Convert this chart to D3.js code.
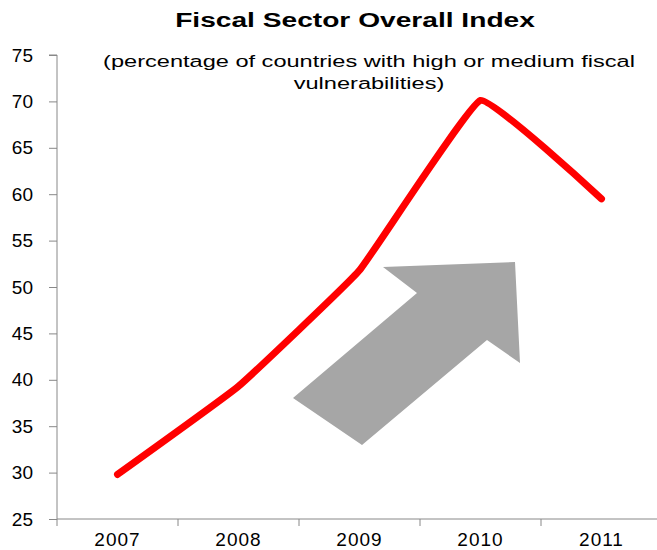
<!DOCTYPE html>
<html>
<head>
<meta charset="utf-8">
<script src="https://cdn.jsdelivr.net/npm/d3@7/dist/d3.min.js"></script>
<style>
  html, body { margin: 0; padding: 0; background: #fff; }
  svg { display: block; }
  text { font-family: "Liberation Sans", Arial, sans-serif; fill: #000; }
</style>
</head>
<body>
<svg id="chart" width="657" height="550"></svg>
<script>
// Index values by year
const years = ["2007", "2008", "2009", "2010", "2011"];
const indexValues = [29.8, 39.3, 51.8, 70.1, 59.5];
const yTicks = [25, 30, 35, 40, 45, 50, 55, 60, 65, 70, 75];

const titleText = "Fiscal Sector Overall Index";
const subtitleLines = ["(percentage of countries with high or medium fiscal", "vulnerabilities)"];

const svg = d3.select("#chart");
const W = 657;
const plotLeft = 57, plotTop = 55, plotBottom = 519;
const bandWidth = 121;

const x = d3.scaleBand()
  .domain(years)
  .range([plotLeft, plotLeft + bandWidth * years.length])
  .paddingInner(0).paddingOuter(0);

const y = d3.scaleLinear().domain([25, 75]).range([plotBottom, plotTop]);

const axisColor = "#888888";

// Y axis
const yAxis = d3.axisLeft(y).tickValues(yTicks).tickSize(8).tickPadding(16).tickFormat(d3.format("d"));
const gy = svg.append("g").attr("transform", `translate(${plotLeft},0)`).call(yAxis);
gy.select(".domain").attr("stroke", axisColor).attr("d", `M-8,${plotTop}H0V${plotBottom}`);
gy.selectAll(".tick line").attr("stroke", axisColor);
gy.selectAll(".tick text").style("font-size", "19px")
  .style("font-family", "Liberation Sans, Arial, sans-serif").attr("fill", "#000");

// X axis with tick marks at band boundaries
const gx = svg.append("g").attr("transform", `translate(0,${plotBottom})`);
gx.append("line").attr("x1", plotLeft).attr("x2", W).attr("y1", 0).attr("y2", 0).attr("stroke", axisColor);
const boundaries = years.map(d => x(d)).concat([x(years[years.length - 1]) + bandWidth]);
gx.selectAll("line.tk").data(boundaries).join("line").attr("class", "tk")
  .attr("x1", d => d).attr("x2", d => d).attr("y1", 0).attr("y2", 7).attr("stroke", axisColor);
gx.selectAll("text").data(years).join("text")
  .attr("x", d => x(d) + bandWidth / 2).attr("y", 27)
  .attr("text-anchor", "middle").style("font-size", "19px").style("letter-spacing", "1px")
  .text(d => d);

// Decorative upward arrow
const arrowPts = [[383, 267], [515, 262], [520, 363], [487, 340], [362, 445], [293, 398], [417, 293]];
svg.append("path").attr("d", d3.line()(arrowPts) + "Z").attr("fill", "#a6a6a6");

// Smoothed index line
const line = d3.line()
  .x((d, i) => x(years[i]) + bandWidth / 2)
  .y(d => y(d))
  .curve(d3.curveCardinal.tension(0.72));
svg.append("path").datum(indexValues).attr("d", line)
  .attr("fill", "none").attr("stroke", "#ff0000").attr("stroke-width", 7)
  .attr("stroke-linecap", "round").attr("stroke-linejoin", "round");

// Subtitle, drawn horizontally widened
const subG = svg.append("g");
const subTexts = subG.selectAll("text").data(subtitleLines).join("text")
  .attr("x", 0).attr("y", (d, i) => 67 + i * 22).attr("text-anchor", "middle")
  .style("font-size", "17px").text(d => d);
const widen = 532 / subTexts.node().getComputedTextLength();
subG.attr("transform", `translate(369,0) scale(${widen},1)`);

// Title, widened to its own span
const titleG = svg.append("g");
const titleNode = titleG.append("text").attr("x", 0).attr("y", 27).attr("text-anchor", "middle")
  .style("font-size", "19.5px").style("font-weight", "bold").text(titleText).node();
const titleWiden = 360 / titleNode.getComputedTextLength();
titleG.attr("transform", `translate(355,0) scale(${titleWiden},1)`);
</script>
</body>
</html>
